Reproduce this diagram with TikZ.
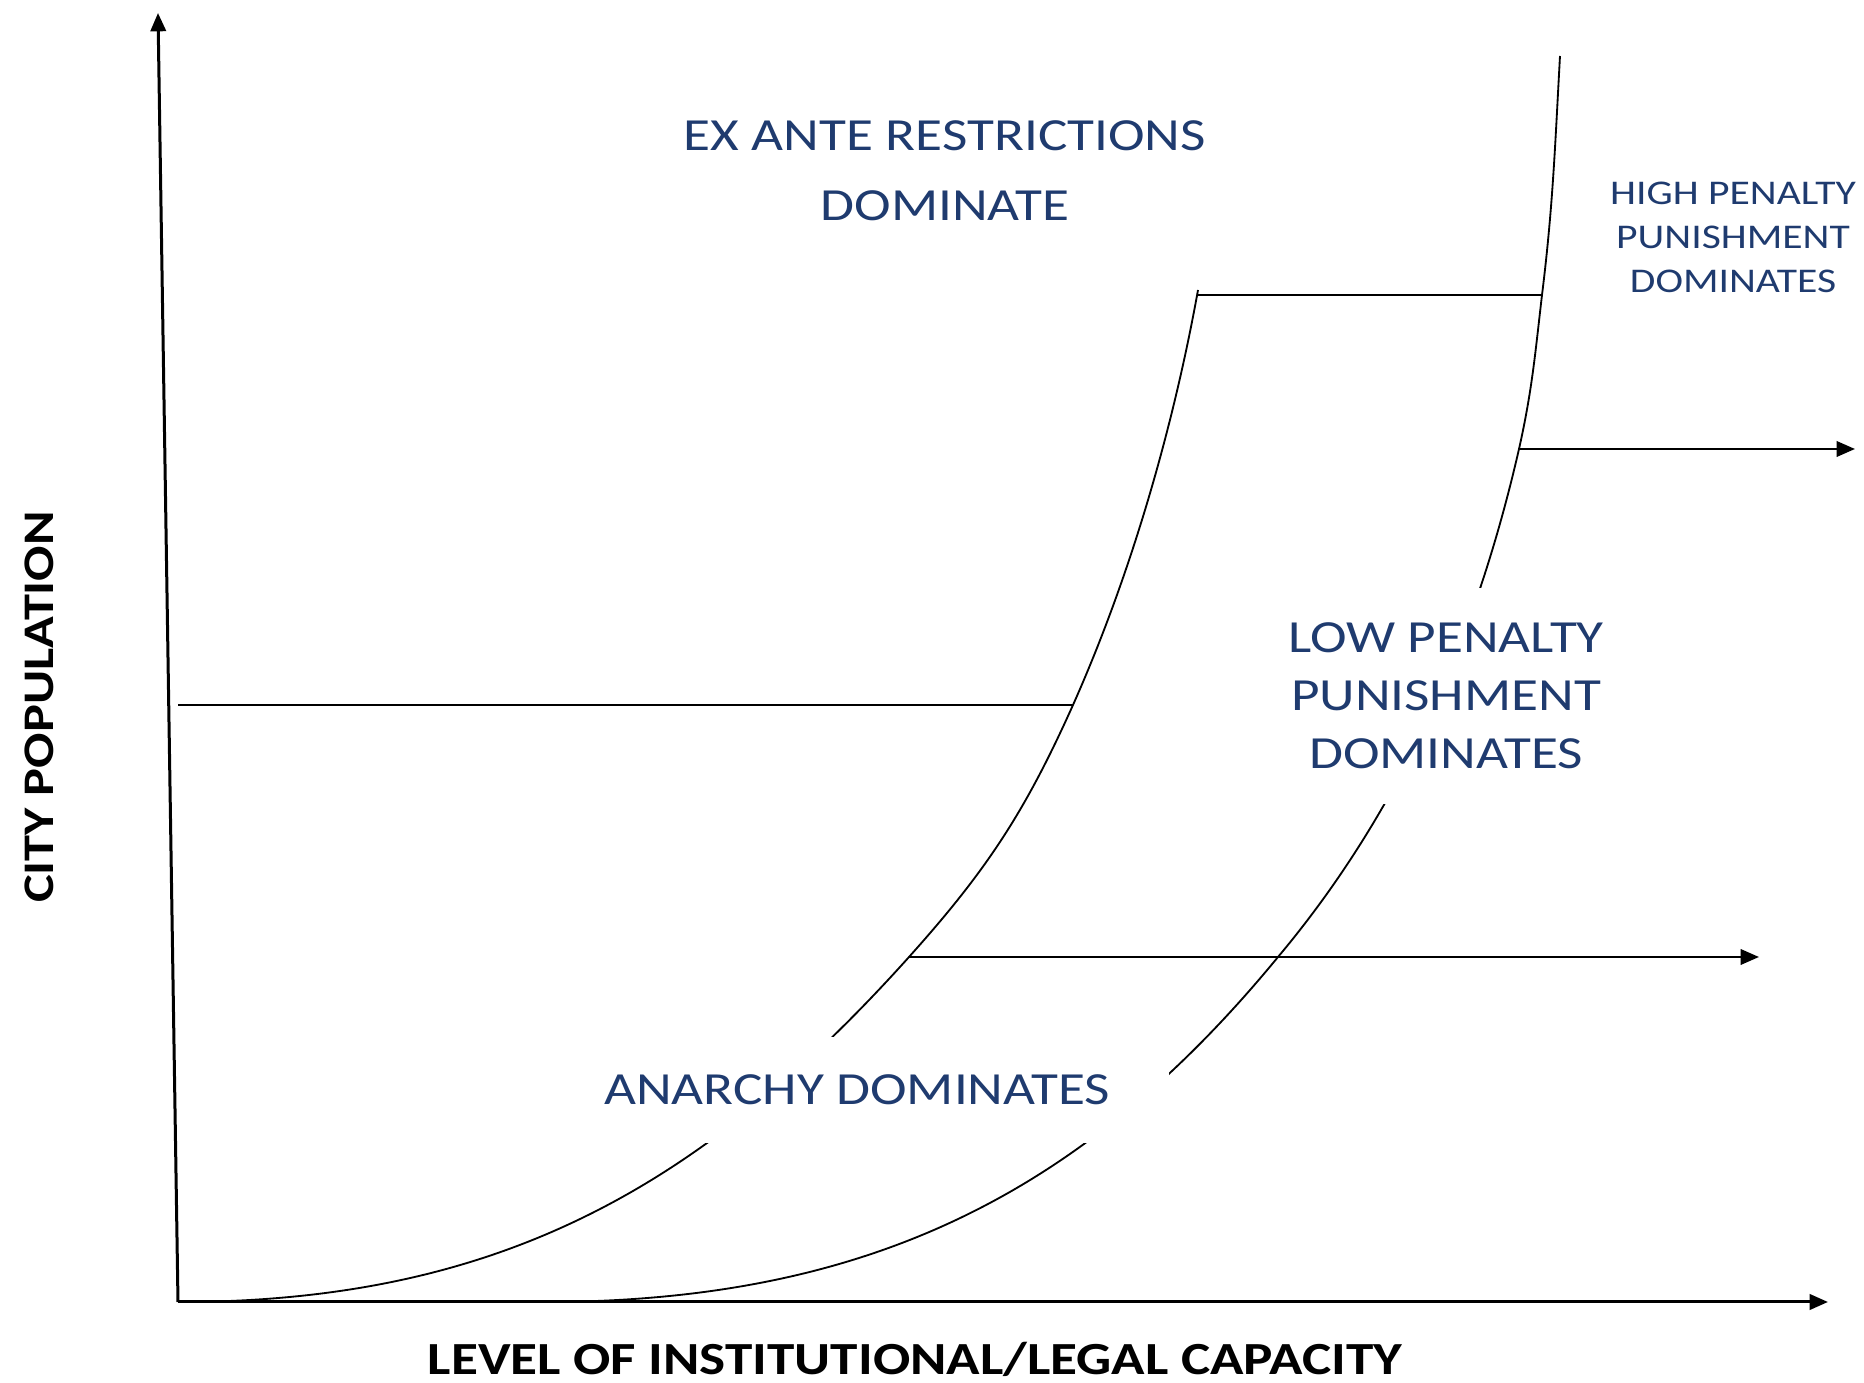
\documentclass[tikz,border=0pt]{standalone}
\usepackage{fontspec}
\setmainfont{Carlito}[FakeStretch=1.2]
\usetikzlibrary{arrows.meta}
\definecolor{Navy}{HTML}{1F3B6F}
\tikzset{
  tip/.style={-{Triangle[length=5.5pt,width=4.6pt]}},
  axis/.style={tip, line width=0.9pt},
  curve/.style={line width=0.55pt},
  bound/.style={line width=0.75pt},
  push/.style={bound, tip},
  region/.style={text=Navy, fill=white, align=center, inner sep=0pt,
                 font=\fontsize{13.8}{17.4}\selectfont},
  axislabel/.style={font=\bfseries\fontsize{13.8}{16}\selectfont},
}

\begin{document}
\begin{tikzpicture}[x=0.3pt, y=-0.3pt]
  \useasboundingbox (0,0) rectangle (1864,1383);

  % axes
  \coordinate (O) at (178,1302);
  \coordinate (ytop) at (158,13);
  \coordinate (xend) at (1828,1302);
  \draw[axis] (O) -- (ytop);
  \draw[axis] (O) -- (xend);

  % points where the boundaries meet the curves
  \coordinate (c1mid) at (909,957);
  \coordinate (c1knee) at (1073,705);
  \coordinate (c1top) at (1198,290);
  \coordinate (c2base) at (543,1302);
  \coordinate (c2mid) at (1278,957);
  \coordinate (c2knee) at (1519,449);
  \coordinate (c2cap) at (1542,295);
  \coordinate (c2top) at (1560,56);
  \coordinate (popline) at (178,705);
  \coordinate (lowend) at (1759,957);
  \coordinate (highend) at (1855,449);

  % the two frontiers
  \draw[curve] (O) .. controls (494,1302) and (698,1192) .. (c1mid)
    .. controls (987,870) and (1025,812) .. (c1knee)
    .. controls (1134,568) and (1175,418) .. (c1top);
  \draw[curve] (c2base) .. controls (863,1302) and (1080,1198) .. (c2mid)
    .. controls (1387,827) and (1470,663) .. (c2knee)
    .. controls (1532,391) and (1535,355) .. (c2cap)
    .. controls (1553,206) and (1555,146) .. (c2top);

  % boundaries
  \draw[bound] (popline) -- (c1knee);
  \draw[bound] (c1top |- c2cap) -- (c2cap);
  \draw[push] (c1mid) -- (lowend);
  \draw[push] (c2knee) -- (highend);

  % regions
  \node[region] (exante) at (945,171) {EX ANTE RESTRICTIONS\\[3.6pt]DOMINATE};
  \node[region, font=\fontsize{10.4}{13.2}\selectfont] (high) at (1733,237)
    {HIGH PENALTY\\PUNISHMENT\\DOMINATES};
  \node[region, minimum width=187pt, minimum height=65pt] (low) at (1446,696)
    {LOW PENALTY\\PUNISHMENT\\DOMINATES};
  \node[region, minimum width=187pt, minimum height=32pt] (anarchy) at (857,1090)
    {ANARCHY DOMINATES};

  % axis titles
  \node[axislabel] (xlabel) at (915,1359) {LEVEL OF INSTITUTIONAL/LEGAL CAPACITY};
  \node[axislabel, font=\bfseries\fontsize{13.1}{16}\selectfont, rotate=90] (ylabel)
    at (39,707) {CITY POPULATION};
\end{tikzpicture}
\end{document}
